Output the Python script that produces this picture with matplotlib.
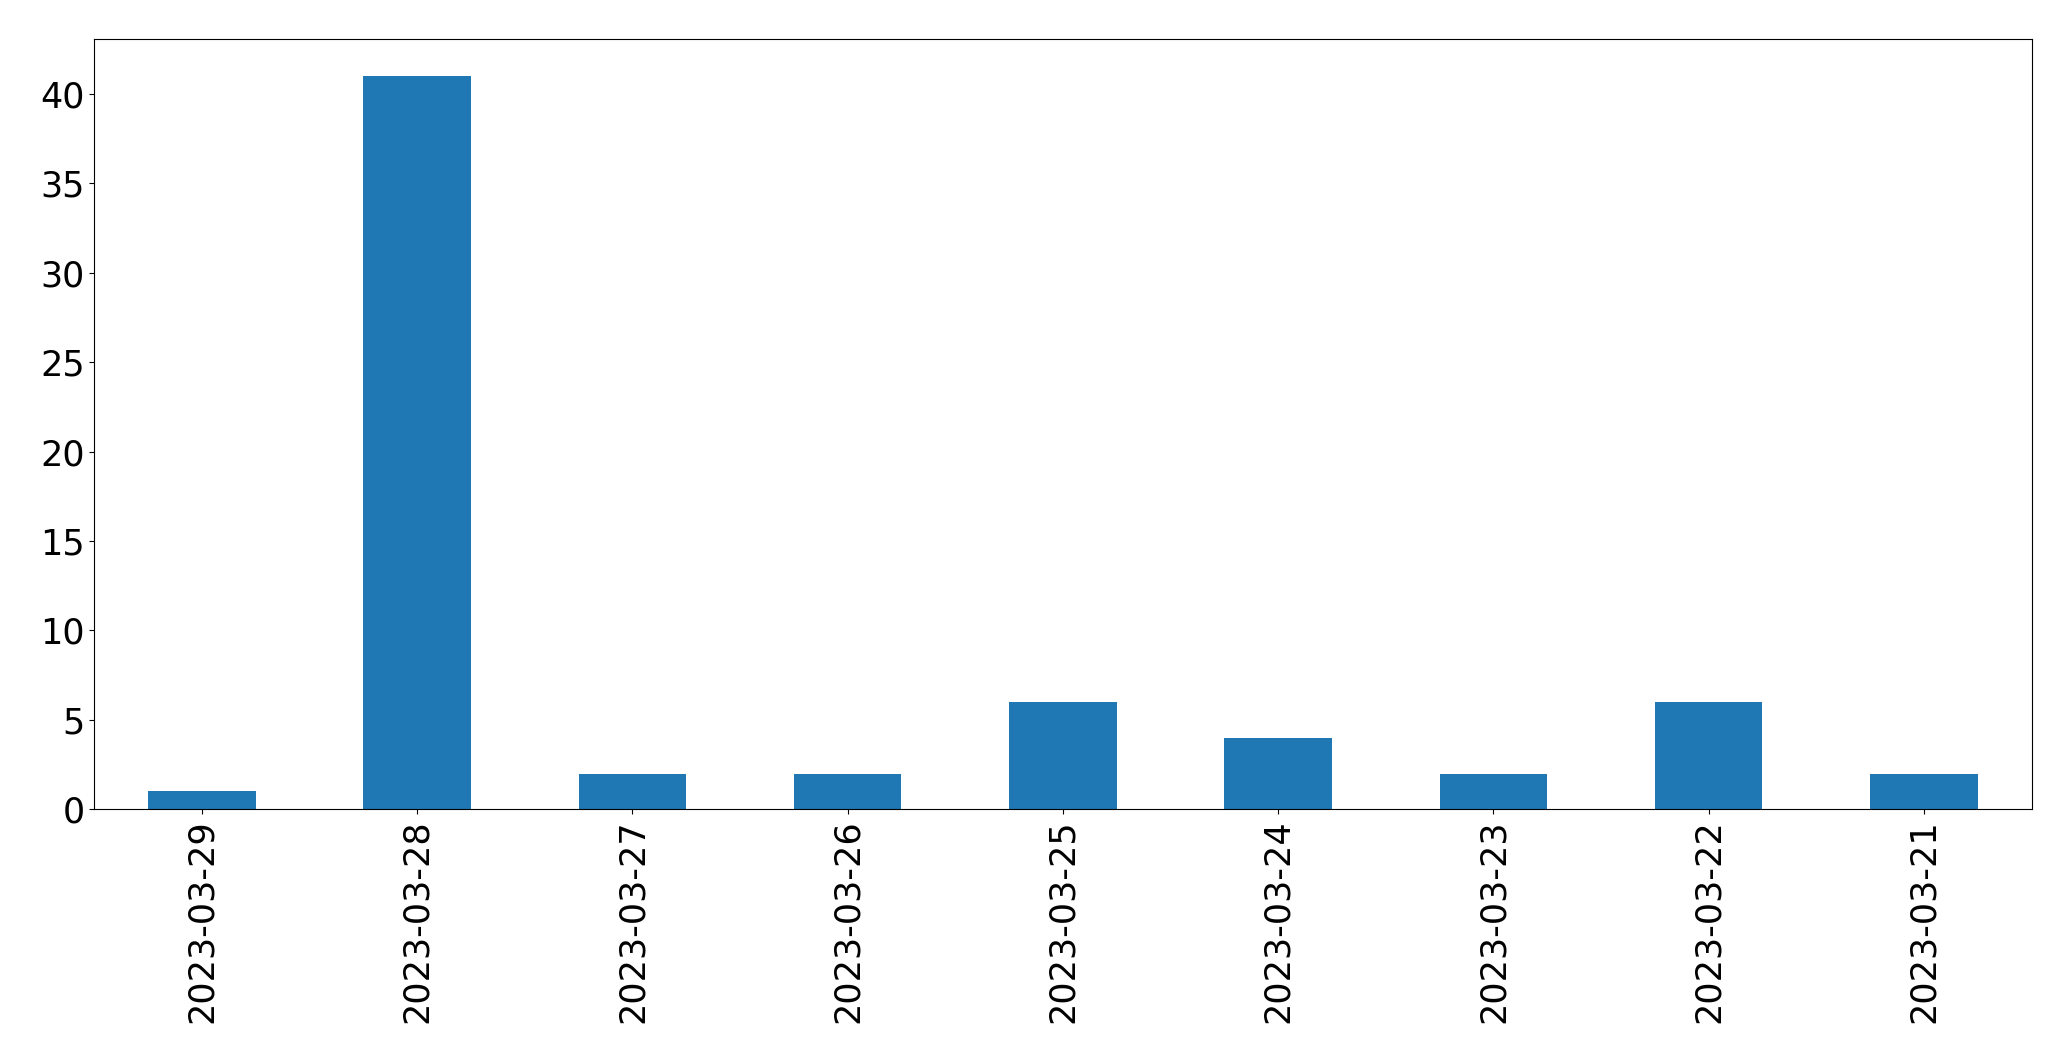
import pandas as pd
import matplotlib
matplotlib.use("Agg")
import matplotlib.pyplot as plt

# 日付ごとの件数
dates = ["2023-03-29", "2023-03-28", "2023-03-27", "2023-03-26", "2023-03-25",
         "2023-03-24", "2023-03-23", "2023-03-22", "2023-03-21"]
counts = [1, 41, 2, 2, 6, 4, 2, 6, 2]

s = pd.Series(counts, index=dates)

fig = plt.figure(figsize=(20.71, 10.61), dpi=100)
ax = fig.add_axes([94.3 / 2071, 1 - 809.3 / 1061, (2031.5 - 94.3) / 2071, (809.3 - 39.3) / 1061])
s.plot.bar(ax=ax, color="#1f77b4")
ax.tick_params(labelsize=25.2)
fig.savefig("out.png", dpi=100)
